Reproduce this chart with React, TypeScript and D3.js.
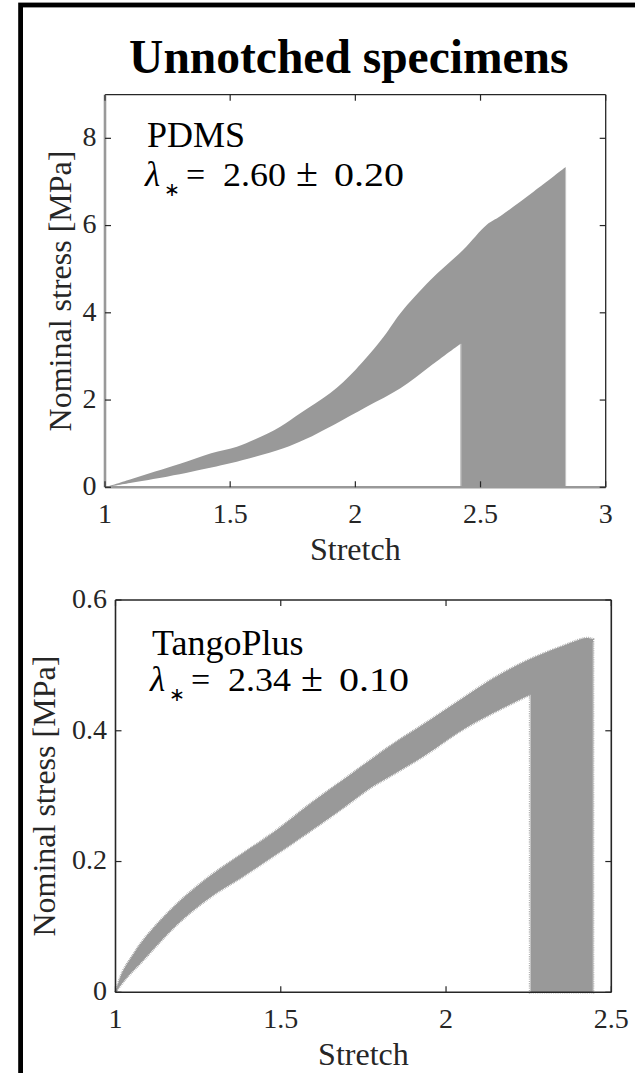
import React from 'react'
import * as d3 from 'd3'

// PDMS, unnotched: envelope of all specimen curves
const pdmsUpperStretch = [1.0, 1.1, 1.2, 1.3, 1.424, 1.527, 1.6, 1.7, 1.78, 1.9, 2.0, 2.113, 2.18, 2.3, 2.43, 2.525, 2.58, 2.713, 2.84]
const pdmsUpperStress = [0, 0.18, 0.36, 0.54, 0.78, 0.93, 1.1, 1.39, 1.7, 2.16, 2.69, 3.45, 3.99, 4.75, 5.44, 6.02, 6.22, 6.78, 7.34]
const pdmsLowerStretch = [1.0, 1.1, 1.247, 1.35, 1.5, 1.6, 1.713, 1.8, 1.913, 2.047, 2.18, 2.3, 2.42]
const pdmsLowerStress = [0, 0.1, 0.243, 0.36, 0.55, 0.7, 0.894, 1.1, 1.43, 1.85, 2.27, 2.78, 3.29]

// TangoPlus, unnotched
const tangoUpperStretch = [1.0, 1.02, 1.05, 1.084, 1.185, 1.286, 1.386, 1.487, 1.588, 1.689, 1.77, 1.84, 1.941, 2.042, 2.142, 2.243, 2.344, 2.425, 2.445]
const tangoUpperStress = [0, 0.03, 0.055, 0.08, 0.135, 0.178, 0.213, 0.248, 0.288, 0.325, 0.355, 0.38, 0.413, 0.447, 0.48, 0.507, 0.528, 0.542, 0.54]
const tangoLowerStretch = [1.0, 1.03, 1.084, 1.185, 1.286, 1.386, 1.487, 1.588, 1.689, 1.77, 1.84, 1.941, 2.042, 2.142, 2.254]
const tangoLowerStress = [0, 0.02, 0.049, 0.103, 0.145, 0.177, 0.211, 0.246, 0.282, 0.312, 0.333, 0.364, 0.399, 0.427, 0.455]

const pdmsXTicks = [1, 1.5, 2, 2.5, 3]
const pdmsYTicks = [0, 2, 4, 6, 8]
const tangoXTicks = [1, 1.5, 2, 2.5]
const tangoYTicks = [0, 0.2, 0.4, 0.6]

type Pt = [number, number]
const zip = (xs: number[], ys: number[]): Pt[] => xs.map((v, i) => [v, ys[i]])

const serif = '"Liberation Serif", "Times New Roman", serif'

function bandPath(
  x: d3.ScaleLinear<number, number>,
  y: d3.ScaleLinear<number, number>,
  upper: Pt[],
  lower: Pt[]
) {
  const line = d3
    .line<Pt>()
    .x((d) => x(d[0]))
    .y((d) => y(d[1]))
    .curve(d3.curveCatmullRom.alpha(0.5))
  const up = line(upper) as string
  const lo = (line([...lower].reverse()) as string).replace(/^M[^A-Za-z]*/, '')
  const last = upper[upper.length - 1]
  const brk = lower[lower.length - 1]
  return `${up}L${x(last[0])},${y(0)}L${x(brk[0])},${y(0)}L${x(brk[0])},${y(brk[1])}${lo}Z`
}

type PanelProps = {
  xDomain: [number, number]
  xRange: [number, number]
  yDomain: [number, number]
  yRange: [number, number]
  xTicks: number[]
  yTicks: number[]
  upper: Pt[]
  lower: Pt[]
  name: string
  value: string
  spread: string
  labelX: number
  textLeft: number
  nameY: number
  lambdaY: number
  greyAxes: boolean
  fuzzy: boolean
}

const Panel = (p: PanelProps) => {
  const x = d3.scaleLinear().domain(p.xDomain).range(p.xRange)
  const y = d3.scaleLinear().domain(p.yDomain).range(p.yRange)
  const [x0, x1] = p.xRange
  const [y0, y1] = p.yRange
  const dark = '#262626'
  const tick = 6
  const d = bandPath(x, y, p.upper, p.lower)
  const last = p.upper[p.upper.length - 1]
  const brk = p.lower[p.lower.length - 1]
  const L = p.textLeft
  return (
    <g>
      <path d={d} fill="#999999" stroke="none" />
      {p.fuzzy && (
        <path d={d} fill="none" stroke="#9c9c9c" strokeWidth={2.4} strokeDasharray="0.7 1.1" />
      )}
      <line x1={x(brk[0]) + 0.5} x2={x(brk[0]) + 0.5} y1={y(0)} y2={y(brk[1])} stroke="#c4c4c4" strokeWidth={1} />
      <line x1={x(last[0])} x2={x(last[0])} y1={y(0)} y2={y(last[1]) + 3} stroke="#c4c4c4" strokeWidth={1} />

      {/* box */}
      <line x1={x0} x2={x1} y1={y1} y2={y1} stroke={dark} strokeWidth={p.greyAxes ? 1.3 : 1.6} />
      <line x1={x1} x2={x1} y1={y1} y2={y0} stroke={dark} strokeWidth={p.greyAxes ? 1.3 : 1.6} />
      <line x1={x0} x2={x0} y1={y1} y2={y0} stroke={p.greyAxes ? '#999999' : dark} strokeWidth={p.greyAxes ? 2.6 : 1.6} />
      <line x1={x0} x2={x1} y1={y0} y2={y0} stroke={p.greyAxes ? '#999999' : dark} strokeWidth={p.greyAxes ? 2.6 : 1.6} />

      {p.xTicks.map((t) => (
        <g key={'x' + t}>
          <line x1={x(t)} x2={x(t)} y1={y0} y2={y0 - tick} stroke={dark} strokeWidth={1.2} />
          <line x1={x(t)} x2={x(t)} y1={y1} y2={y1 + tick} stroke={dark} strokeWidth={1.2} />
          <text x={x(t)} y={y0 + 36} textAnchor="middle" fontFamily={serif} fontSize={28} fill={dark}>
            {String(t)}
          </text>
        </g>
      ))}
      {p.yTicks.map((t) => (
        <g key={'y' + t}>
          <line x1={x0} x2={x0 + tick} y1={y(t)} y2={y(t)} stroke={dark} strokeWidth={1.2} />
          <line x1={x1} x2={x1 - tick} y1={y(t)} y2={y(t)} stroke={dark} strokeWidth={1.2} />
          <text x={x0 - 8.5} y={y(t)} dy="0.28em" textAnchor="end" fontFamily={serif} fontSize={28} fill={dark}>
            {String(t)}
          </text>
        </g>
      ))}

      <text x={(x0 + x1) / 2} y={y0 + 73} textAnchor="middle" fontFamily={serif} fontSize={32} fill={dark}>
        Stretch
      </text>
      <text
        transform={`translate(${p.labelX},${(y0 + y1) / 2}) rotate(-90)`}
        textAnchor="middle"
        fontFamily={serif}
        fontSize={32}
        fill={dark}
      >
        Nominal stress [MPa]
      </text>

      <text x={L + 2} y={p.nameY} fontFamily={serif} fontSize={36} fill="#000">
        {p.name}
      </text>
      <g fontFamily={serif} fill="#000">
        <text x={L} y={p.lambdaY} fontSize={35} fontStyle="italic">λ</text>
        <text x={L + 19} y={p.lambdaY + 10} fontSize={19}>∗</text>
        <text x={L + 41} y={p.lambdaY} fontSize={34}>=</text>
        <text x={L + 78} y={p.lambdaY} fontSize={34} textLength={63} lengthAdjust="spacingAndGlyphs">
          {p.value}
        </text>
        <text x={L + 151} y={p.lambdaY} fontSize={40}>±</text>
        <text x={L + 189} y={p.lambdaY} fontSize={34} textLength={70} lengthAdjust="spacingAndGlyphs">
          {p.spread}
        </text>
      </g>
    </g>
  )
}

const App = () => {
  return (
    <svg
      width={635}
      height={1073}
      style={{ position: 'absolute', left: 0, top: 0, background: '#fff' }}
    >
      <rect x={0} y={0} width={635} height={1073} fill="#fff" />
      <rect x={20.6} y={5} width={800} height={1300} fill="none" stroke="#000" strokeWidth={4.8} />
      <text x={348.8} y={73} textAnchor="middle" fontFamily={serif} fontWeight="bold" fontSize={47.5} fill="#000">
        Unnotched specimens
      </text>
      <Panel
        xDomain={[1, 3]}
        xRange={[105, 605.7]}
        yDomain={[0, 9]}
        yRange={[487.3, 94.7]}
        xTicks={pdmsXTicks}
        yTicks={pdmsYTicks}
        upper={zip(pdmsUpperStretch, pdmsUpperStress)}
        lower={zip(pdmsLowerStretch, pdmsLowerStress)}
        name="PDMS"
        value="2.60"
        spread="0.20"
        labelX={71}
        textLeft={145}
        nameY={146.7}
        lambdaY={186}
        greyAxes={true}
        fuzzy={false}
      />
      <Panel
        xDomain={[1, 2.5]}
        xRange={[115.5, 611.3]}
        yDomain={[0, 0.6]}
        yRange={[992.3, 600]}
        xTicks={tangoXTicks}
        yTicks={tangoYTicks}
        upper={zip(tangoUpperStretch, tangoUpperStress)}
        lower={zip(tangoLowerStretch, tangoLowerStress)}
        name="TangoPlus"
        value="2.34"
        spread="0.10"
        labelX={55}
        textLeft={150}
        nameY={655}
        lambdaY={691}
        greyAxes={false}
        fuzzy={true}
      />
    </svg>
  )
}

export default App
